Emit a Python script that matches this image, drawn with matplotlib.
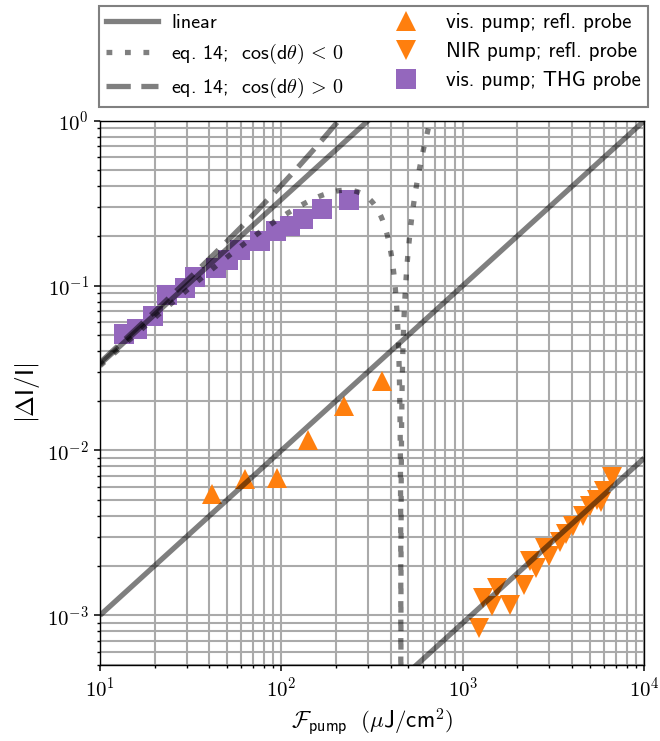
import numpy as np
import matplotlib
matplotlib.use("Agg")
import matplotlib.pyplot as plt
from matplotlib.lines import Line2D
from matplotlib.ticker import FuncFormatter, NullFormatter

plt.rcParams['font.family'] = ['cmss10', 'DejaVu Sans']
plt.rcParams['mathtext.fontset'] = 'cm'
plt.rcParams['axes.formatter.use_mathtext'] = True
plt.rcParams['axes.unicode_minus'] = False

# vis. pump; THG probe  (fluence in uJ/cm^2, |dI/I|)
thg_fluence = [13.5, 16.0, 19.7, 23.3, 29.4, 33.4, 43.5, 50.9, 59.1, 75.9, 93.7, 111, 132, 168, 235]
thg_signal = [0.0507, 0.0544, 0.065, 0.0875, 0.0966, 0.1127, 0.1277, 0.143, 0.1637, 0.186,
              0.2136, 0.231, 0.255, 0.290, 0.331]

# vis. pump; refl. probe
vis_fluence = [41.6, 63.0, 94.2, 139.6, 222, 357]
vis_signal = [0.00546, 0.00673, 0.00685, 0.01157, 0.0187, 0.0262]

# NIR pump; refl. probe
nir_fluence = [1233, 1297, 1443, 1537, 1820, 2175, 2345, 2530, 2850, 3000, 3435, 3707,
               4067, 4580, 5025, 5470, 5755, 5990, 6620]
nir_signal = [8.4e-4, 1.28e-3, 1.14e-3, 1.47e-3, 1.16e-3, 1.53e-3, 2.13e-3, 1.94e-3, 2.56e-3,
              2.29e-3, 2.80e-3, 3.10e-3, 3.47e-3, 4.01e-3, 4.6e-3, 5.01e-3, 4.90e-3, 5.69e-3, 6.92e-3]

# slopes of the linear guides |dI/I| = a * F
lin_slopes = [1 / 300, 1e-4, 9e-7]
# |cos(dtheta)| used in eq. 14
cos_dtheta = 0.616

xlim = (10, 1e4)
ylim = (5e-4, 1)

LW = 3.8
DOTS = (0, (1.1, 2.4))
DASHES = (0, (4.6, 2.0))

fig = plt.figure(figsize=(6.6, 7.41), dpi=100)
ax = fig.add_axes([0.1515, 0.1026, 0.8247, 0.7345])

ax.set_xscale('log')
ax.set_yscale('log')

# data first, guide lines drawn on top
ax.plot(thg_fluence, thg_signal, 's', color='tab:purple', ms=14, mew=0)
ax.plot(vis_fluence, vis_signal, '^', color='tab:orange', ms=14, mew=0)
ax.plot(nir_fluence, nir_signal, 'v', color='tab:orange', ms=14, mew=0)

F = np.logspace(1, 4, 4000)
for a in lin_slopes:
    ax.plot(F, a * F, color='k', alpha=0.5, lw=LW, solid_capstyle='butt')

# eq. 14: dI/I = r^2 +/- 2 r cos(dtheta), r proportional to fluence
b = lin_slopes[0] / (2 * cos_dtheta)
F_zero = 2 * cos_dtheta / b
F14 = np.sort(np.append(F, F_zero))
r = b * F14
eq14_neg = np.abs(r ** 2 - 2 * cos_dtheta * r)
eq14_pos = r ** 2 + 2 * cos_dtheta * r
eq14_neg[np.isclose(F14, F_zero)] = 1e-9
ax.plot(F14, eq14_neg, color='k', alpha=0.5, lw=LW, linestyle=DOTS)
ax.plot(F14, eq14_pos, color='k', alpha=0.5, lw=LW, linestyle=DASHES)

ax.set_xlim(*xlim)
ax.set_ylim(*ylim)
ax.grid(which='both', color='#aaaaaa', lw=1.5)
ax.set_axisbelow(True)
for s in ax.spines.values():
    s.set_linewidth(1.0)

pow_fmt = FuncFormatter(lambda v, p: r'$\mathsf{10^{%d}}$' % int(round(np.log10(v))))
for axis in (ax.xaxis, ax.yaxis):
    axis.set_major_formatter(pow_fmt)
    axis.set_minor_formatter(NullFormatter())
ax.tick_params(which='major', length=4.5, width=1.1, labelsize=15)
ax.tick_params(which='minor', length=2.5, width=1.0)

ax.set_xlabel(r'$\mathcal{F}_{\mathsf{pump}}\ \ (\mu\mathsf{J/cm}^2)$', fontsize=16.5)
ax.set_ylabel(r'$|\Delta\mathsf{I}/\mathsf{I}|$', fontsize=18)

handles = [
    Line2D([], [], color='k', alpha=0.5, lw=LW),
    Line2D([], [], color='k', alpha=0.5, lw=LW, linestyle=DOTS),
    Line2D([], [], color='k', alpha=0.5, lw=LW, linestyle=DASHES),
    Line2D([], [], marker='^', color='tab:orange', ls='none', ms=14, mew=0),
    Line2D([], [], marker='v', color='tab:orange', ls='none', ms=14, mew=0),
    Line2D([], [], marker='s', color='tab:purple', ls='none', ms=14, mew=0),
]
labels = [
    'linear',
    r'eq. 14;  $\mathsf{cos(d}\theta\mathsf{)}\, <\, \mathsf{0}$',
    r'eq. 14;  $\mathsf{cos(d}\theta\mathsf{)}\, >\, \mathsf{0}$',
    'vis. pump; refl. probe',
    'NIR pump; refl. probe',
    'vis. pump; THG probe',
]
leg = ax.legend(handles, labels, ncol=2, loc='lower left', mode='expand',
                bbox_to_anchor=(-0.002, 1.025, 1.008, 0.19), borderaxespad=0,
                fontsize=14.5, handlelength=2.6, handletextpad=0.65, borderpad=0.35,
                fancybox=False, edgecolor='#808080', framealpha=1, labelspacing=0.5)
leg.get_frame().set_linewidth(1.5)
for t in leg.get_texts()[3:]:
    t.set_fontsize(15)

fig.savefig('out.png', dpi=100)
